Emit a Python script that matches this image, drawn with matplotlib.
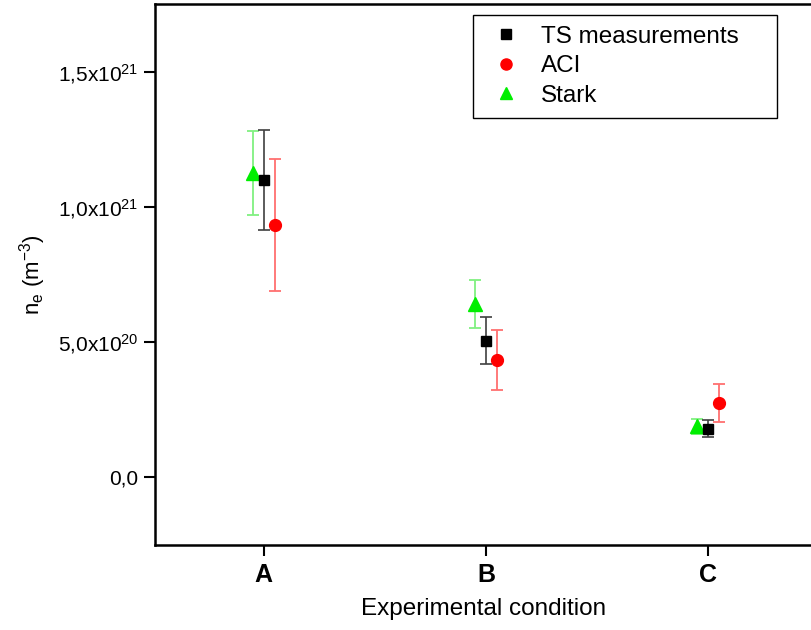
import matplotlib
matplotlib.use("Agg")
import matplotlib.pyplot as plt
from matplotlib.lines import Line2D
import numpy as np

plt.rcParams['font.family'] = ['Liberation Sans', 'DejaVu Sans']
plt.rcParams['mathtext.fontset'] = 'custom'
plt.rcParams['mathtext.rm'] = 'Liberation Sans'
plt.rcParams['mathtext.it'] = 'Liberation Sans:italic'
plt.rcParams['mathtext.bf'] = 'Liberation Sans:bold'

categories = ['A', 'B', 'C']
ts_values = [1.10e21, 5.05e20, 1.79e20]
ts_errors = [1.87e20, 0.86e20, 0.31e20]
aci_values = [9.33e20, 4.33e20, 2.74e20]
aci_errors = [2.43e20, 1.12e20, 0.71e20]
stark_values = [1.126e21, 6.41e20, 1.88e20]
stark_errors = [1.57e20, 0.89e20, 0.28e20]
ytick_values = [0, 5e20, 1e21, 1.5e21]
ytick_labels = ['0,0', r'5,0x10$^{\mathregular{20}}$', r'1,0x10$^{\mathregular{21}}$', r'1,5x10$^{\mathregular{21}}$']

x = np.arange(1, len(categories) + 1)
off = 0.05

fig = plt.figure(figsize=(8.11, 6.30), dpi=100)
ax = fig.add_axes([155/811, 85/630, 1 - 155/811 + 0.002, 541/630])

ax.errorbar(x - off, stark_values, yerr=stark_errors, fmt='none', ecolor='#80f080',
            elinewidth=1.3, capsize=4, capthick=1.3, zorder=2)
ax.errorbar(x, ts_values, yerr=ts_errors, fmt='none', ecolor='#404040',
            elinewidth=1.2, capsize=4, capthick=1.2, zorder=2)
ax.errorbar(x + off, aci_values, yerr=aci_errors, fmt='none', ecolor='#ff7070',
            elinewidth=1.3, capsize=4, capthick=1.3, zorder=2)
ax.plot(x - off, stark_values, linestyle='none', marker='^', color='#00ee00', markersize=9.5, zorder=3)
ax.plot(x, ts_values, linestyle='none', marker='s', color='black', markersize=7.5, zorder=4)
ax.plot(x + off, aci_values, linestyle='none', marker='o', color='#ff0000', markersize=8.5, zorder=3)

ax.set_xlim(0.51, 3.47)
ax.set_ylim(-2.52e20, 1.752e21)
ax.set_xticks(x)
ax.set_xticklabels(categories, fontweight='bold', fontsize=18)
ax.set_yticks(ytick_values)
ax.set_yticklabels(ytick_labels, fontsize=15)
ax.tick_params(axis='both', direction='out', length=8, width=1.5, pad=4)
ax.tick_params(axis='x', pad=5)
for s in ['left', 'bottom', 'top']:
    ax.spines[s].set_linewidth(1.8)
ax.spines['right'].set_visible(False)

ax.set_xlabel('Experimental condition', fontsize=17.5, labelpad=8)
ax.set_ylabel(r'n$_{\mathregular{e}}$ (m$^{\mathregular{-3}}$)', fontsize=16, labelpad=7)

handles = [
    Line2D([], [], linestyle='none', marker='s', color='black', markersize=7),
    Line2D([], [], linestyle='none', marker='o', color='#ff0000', markersize=8),
    Line2D([], [], linestyle='none', marker='^', color='#00ee00', markersize=8.5),
]
lx0 = (472 - 155) / 656
lx1 = (775 - 155) / 656
ly1 = (545 - 15) / 541
leg = ax.legend(handles, ['TS measurements', 'ACI', 'Stark'], loc='upper left',
                bbox_to_anchor=(lx0, ly1 - 0.2, lx1 - lx0, 0.2), mode='expand',
                borderaxespad=0, fontsize=17.5,
                frameon=True, fancybox=False, edgecolor='black', framealpha=1,
                handletextpad=0.55, borderpad=0.45, labelspacing=0.3, handlelength=1.8)
leg.get_frame().set_linewidth(1.0)

fig.savefig('out.png', dpi=100)
